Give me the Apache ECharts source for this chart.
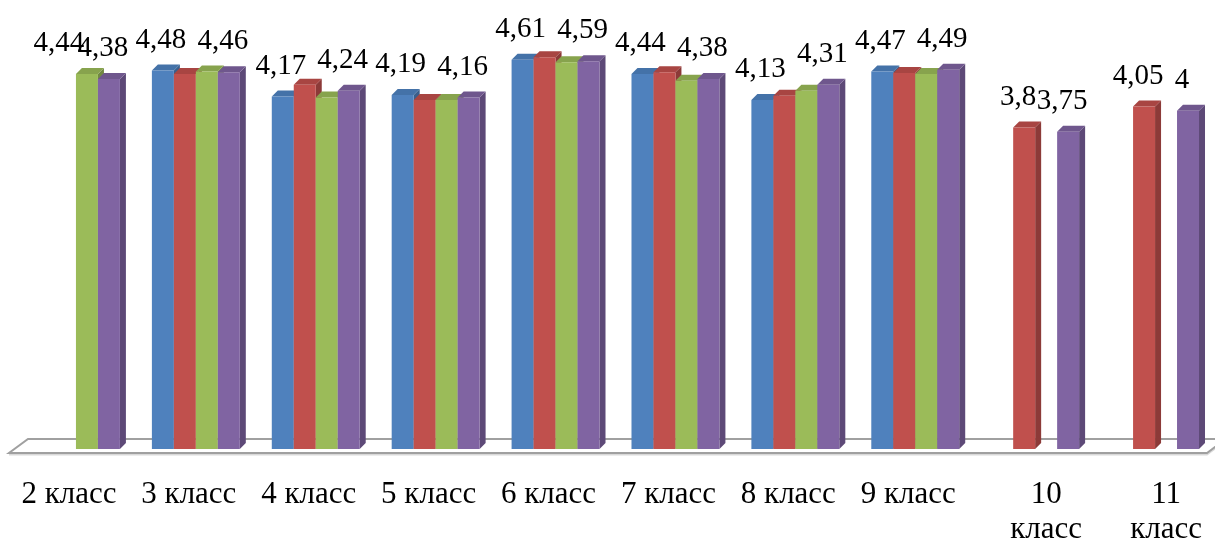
<!DOCTYPE html>
<html><head><meta charset="utf-8">
<script src="https://cdn.jsdelivr.net/npm/echarts@6/dist/echarts.min.js"></script>
<style>html,body{margin:0;padding:0;background:#fff}#c{width:1215px;height:545px}</style>
</head><body><div id="c"></div>
<script>
// ---- data ----
const categories = ['2 класс','3 класс','4 класс','5 класс','6 класс','7 класс','8 класс','9 класс','10 класс','11 класс'];
const seriesBlue   = [null, 4.48, 4.17, 4.19, 4.61, 4.44, 4.13, 4.47, null, null];
const seriesRed    = [null, 4.44, 4.31, 4.13, 4.64, 4.46, 4.18, 4.45, 3.8, 4.05];
const seriesGreen  = [4.44, 4.47, 4.16, 4.13, 4.58, 4.36, 4.24, 4.44, null, null];
const seriesPurple = [4.38, 4.46, 4.24, 4.16, 4.59, 4.38, 4.31, 4.49, 3.75, 4];
// which points carry a value label (1 = shown)
const labelsBlue   = [0,1,1,1,1,1,1,1,0,0];
const labelsRed    = [0,0,0,0,0,0,0,0,1,1];
const labelsGreen  = [1,0,0,0,0,0,0,0,0,0];
const labelsPurple = [1,1,1,1,1,1,1,1,1,1];

// ---- styles ----
const styles = [
  {front:'#4F81BD', side:'#3A5F8C', top:'#4472A8', lx:-2},
  {front:'#C0504D', side:'#8C3A38', top:'#A84542', lx:-6},
  {front:'#9BBB59', side:'#718941', top:'#87A34D', lx:-6},
  {front:'#8064A2', side:'#5D4977', top:'#6F578D', lx:-6}
];
const depth = 6;
const labelNudge = {'2-0': -22}; // series-category: extra x shift of label

function fmt(v){ return String(v).replace('.', ','); }

function makeRender(sIdx, flags){
  const st = styles[sIdx];
  return function(params, api){
    const i = api.value(0);
    const v = api.value(1);
    if (v == null || isNaN(v)) return;
    const band = api.size([1, 0])[0];
    const bw = band * 0.7333 / 4;
    const c = api.coord([i, v]);
    const base = api.coord([i, 0]);
    const x0 = c[0] - 2 * bw + sIdx * bw;
    const yT = c[1], yB = base[1] + 3;
    const d = depth;
    const children = [
      {type:'polygon', shape:{points:[[x0+bw,yT],[x0+bw+d,yT-d],[x0+bw+d,yB-d],[x0+bw,yB]]}, style:{fill:st.side}},
      {type:'polygon', shape:{points:[[x0,yT],[x0+d,yT-d],[x0+bw+d,yT-d],[x0+bw,yT]]}, style:{fill:st.top}},
      {type:'rect', shape:{x:x0, y:yT, width:bw, height:yB-yT}, style:{fill:st.front}}
    ];
    if (flags[i]) {
      const nudge = labelNudge[sIdx + '-' + i] || 0;
      children.push({type:'text', z2:100, x: x0 + bw/2 + st.lx + nudge, y: yT - d - 10,
        style:{text: fmt(v), fontSize:29, fontFamily:'"Liberation Serif", "Times New Roman", serif', fill:'#000', align:'center', verticalAlign:'bottom'}});
    }
    return {type:'group', children};
  };
}

const allValues = [seriesBlue, seriesRed, seriesGreen, seriesPurple];
const allFlags = [labelsBlue, labelsRed, labelsGreen, labelsPurple];
const names = ['Ряд 1','Ряд 2','Ряд 3','Ряд 4'];

const series = [{
  type:'custom', name:'floor', silent:true, z:1,
  data:[[0,0]],
  renderItem:function(params, api){
    const cs = params.coordSys;
    const y0 = api.coord([0,0])[1];
    const fl = cs.x - 7, fr = cs.x + cs.width - 8, yf = y0 + 7, yb = y0 - 7, off = 19;
    return {type:'group', children:[
      {type:'polygon', shape:{points:[[fl,yf+1.5],[fr,yf+1.5],[fr+off,yb+1.5]]}, style:{fill:'none', stroke:'#d9d9d9', lineWidth:2}},
      {type:'polygon', shape:{points:[[fl,yf],[fr,yf],[fr+off,yb],[fl+off,yb]]}, style:{fill:'#fff', stroke:'#a0a0a0', lineWidth:2}}
    ]};
  }
}];
allValues.forEach((vals, s) => {
  series.push({
    type:'custom', name:names[s], z:2,
    encode:{x:0, y:1},
    data: vals.map((v, i) => [i, v == null ? null : v]),
    renderItem: makeRender(s, allFlags[s])
  });
});

const chart = echarts.init(document.getElementById('c'));
chart.setOption({
  animation:false,
  grid:{left:16, width:1200, top:27, height:420},
  xAxis:{
    type:'category', data:categories,
    axisLine:{show:false}, axisTick:{show:false}, splitLine:{show:false},
    axisLabel:{
      interval:0, margin:31,
      formatter:function(v){
        if (/^1\d /.test(v)) return '{w|' + v.replace(' ', '}\n{w|') + '}';
        return '{a|' + v + '}';
      },
      rich:{
        a:{fontSize:31, fontFamily:'"Liberation Serif", serif', color:'#000', padding:[0,14,0,0], lineHeight:35},
        w:{fontSize:31, fontFamily:'"Liberation Serif", serif', color:'#000', padding:[0,0,0,22], lineHeight:35}
      }
    }
  },
  yAxis:{type:'value', min:0, max:5, show:false, splitLine:{show:false}},
  series
});
</script>
</body></html>
